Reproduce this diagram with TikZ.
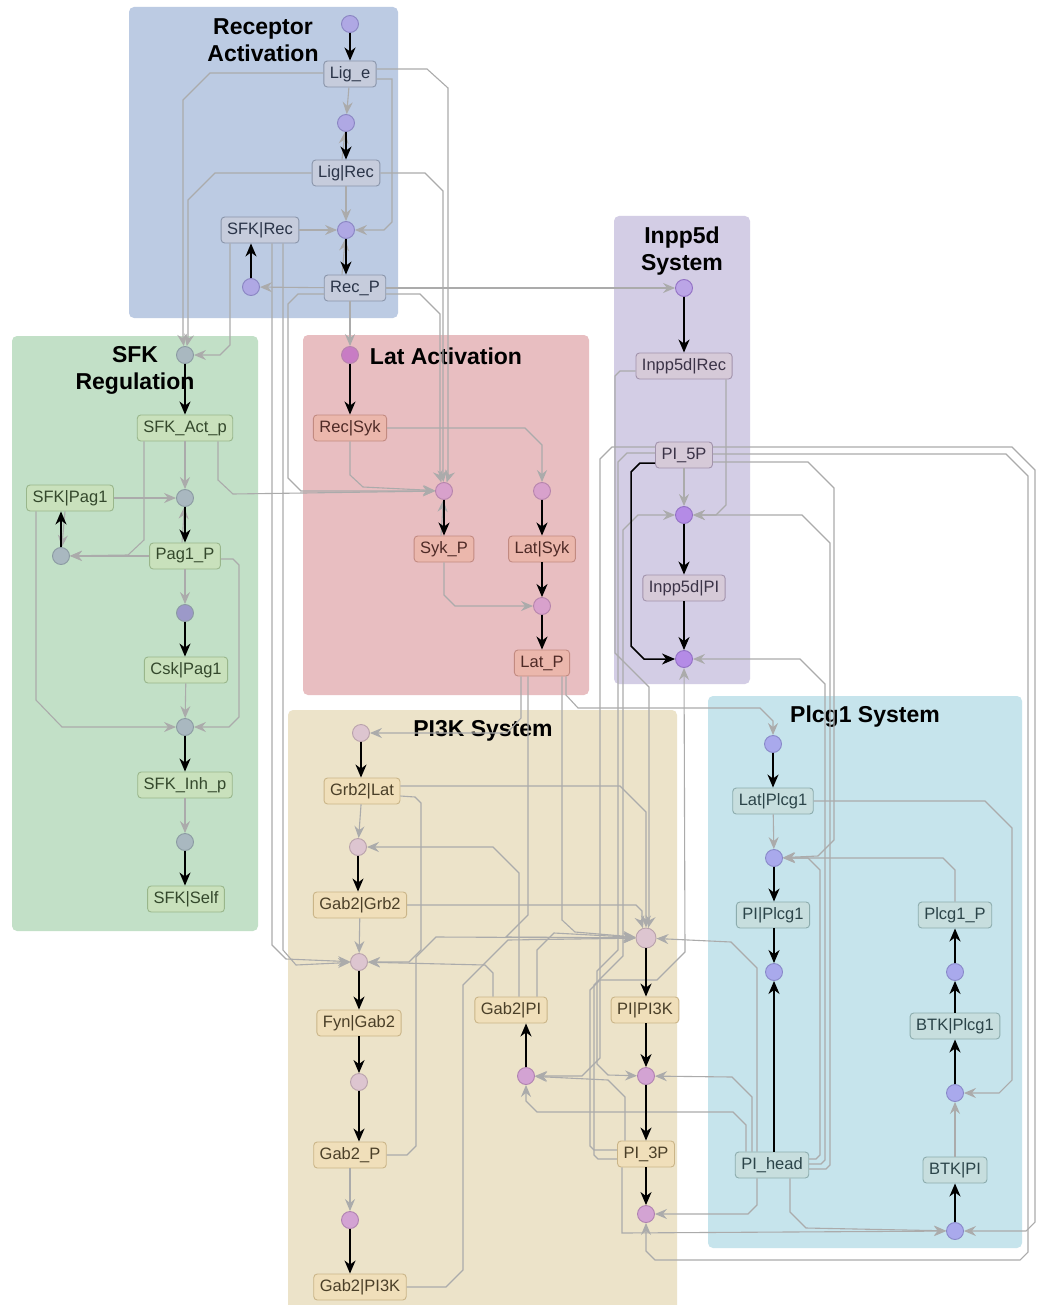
\documentclass[tikz,border=0pt]{standalone}
\usepackage{fontspec}
\setmainfont{Liberation Sans}
\usetikzlibrary{arrows.meta}

\definecolor{eg}{HTML}{ABABAB}
\definecolor{recBg}{HTML}{BCCBE3}\definecolor{recF}{HTML}{C6CCDC}\definecolor{recD}{HTML}{8A95AA}\definecolor{recT}{HTML}{2A3448}
\definecolor{recC}{HTML}{AFA8E4}\definecolor{recCD}{HTML}{8A85C2}
\definecolor{sfkBg}{HTML}{C2E0C7}\definecolor{sfkF}{HTML}{C9E1BC}\definecolor{sfkD}{HTML}{99B68B}\definecolor{sfkT}{HTML}{34482C}
\definecolor{sfkC}{HTML}{A9B8C0}\definecolor{sfkCD}{HTML}{8B9AA2}\definecolor{sfkCm}{HTML}{9C99C9}
\definecolor{latBg}{HTML}{E8BEC1}\definecolor{latF}{HTML}{EBB7AC}\definecolor{latD}{HTML}{C28A81}\definecolor{latT}{HTML}{4E2A26}
\definecolor{latC}{HTML}{D8A1CC}\definecolor{latCD}{HTML}{B684AC}\definecolor{latCs}{HTML}{C87CC4}
\definecolor{inBg}{HTML}{D3CDE5}\definecolor{inF}{HTML}{D6CAD8}\definecolor{inD}{HTML}{A293AC}\definecolor{inT}{HTML}{3B3347}
\definecolor{inC}{HTML}{B48BE6}\definecolor{inCD}{HTML}{9270C4}\definecolor{inCl}{HTML}{BBA5E6}
\definecolor{piBg}{HTML}{ECE3C9}\definecolor{piF}{HTML}{F0DFBA}\definecolor{piD}{HTML}{CAB588}\definecolor{piT}{HTML}{4A3F28}
\definecolor{piCp}{HTML}{DDC5D0}\definecolor{piCpD}{HTML}{B9A2AB}\definecolor{piCm}{HTML}{D3A3D3}\definecolor{piCmD}{HTML}{B082B0}
\definecolor{plBg}{HTML}{C6E4EC}\definecolor{plF}{HTML}{C7DEDE}\definecolor{plD}{HTML}{8CACAD}\definecolor{plT}{HTML}{2B4449}
\definecolor{plC}{HTML}{A9A9EC}\definecolor{plCD}{HTML}{8888C8}

\tikzset{
  sp/.style={draw, rounded corners=3.5pt, minimum height=26pt, inner xsep=6pt, inner ysep=0pt,
             line width=0.9pt, font=\fontsize{16.5}{19}\selectfont},
  spr/.style={sp, fill=recF, draw=recD, text=recT},
  sps/.style={sp, fill=sfkF, draw=sfkD, text=sfkT},
  spl/.style={sp, fill=latF, draw=latD, text=latT},
  spi/.style={sp, fill=inF, draw=inD, text=inT},
  spk/.style={sp, fill=piF, draw=piD, text=piT},
  spp/.style={sp, fill=plF, draw=plD, text=plT},
  rx/.style={circle, draw, minimum size=17pt, inner sep=0pt, line width=0.9pt},
  rxr/.style={rx, fill=recC, draw=recCD},
  rxs/.style={rx, fill=sfkC, draw=sfkCD},
  rxl/.style={rx, fill=latC, draw=latCD},
  rxi/.style={rx, fill=inC, draw=inCD},
  rxk/.style={rx, fill=piCp, draw=piCpD},
  rxm/.style={rx, fill=piCm, draw=piCmD},
  rxp/.style={rx, fill=plC, draw=plCD},
  ge/.style={draw=eg, line width=1.1pt, -{Stealth[length=12pt,width=10pt,inset=4pt]}},
  be/.style={draw=black, line width=1.5pt, -{Stealth[length=13pt,width=11pt,inset=4pt]}},
  ttl/.style={font=\bfseries\fontsize{23}{27}\selectfont, align=center, inner sep=0pt},
}

\begin{document}
\begin{tikzpicture}[x=1pt,y=-1pt]
\useasboundingbox (0,0) rectangle (1040,1305);
\fill[white] (0,0) rectangle (1040,1305);

% compartments
\fill[recBg, rounded corners=5pt] (129,7) rectangle (398,318);
\fill[sfkBg, rounded corners=5pt] (12,336) rectangle (258,931);
\fill[latBg, rounded corners=5pt] (303,335) rectangle (589,695);
\fill[inBg, rounded corners=5pt] (614,216) rectangle (750,684);
\fill[piBg, rounded corners=5pt] (288,710) rectangle (677,1310);
\fill[plBg, rounded corners=5pt] (708,696) rectangle (1022,1248);

% compartment titles
\node[ttl] at (263,40) {Receptor\\Activation};
\node[ttl] at (135,370) {SFK\\Regulation};
\node[ttl] at (446,356) {Lat Activation};
\node[ttl] at (682,251) {Inpp5d\\System};
\node[ttl] at (483,731) {PI3K System};
\node[ttl] at (865,717) {Plcg1 System};

% ---------- species and reactions ----------
% receptor activation
\node[rxr] (r0) at (350,24) {};
\node[spr] (lige) at (350,74) {Lig\_e};
\node[rxr] (r1) at (346,123) {};
\node[spr] (ligrec) at (346,173) {Lig|Rec};
\node[spr] (sfkrec) at (260,230) {SFK|Rec};
\node[rxr] (r2) at (346,230) {};
\node[spr] (recp) at (355,288) {Rec\_P};
\node[rxr] (r3) at (251,287) {};
% SFK regulation
\node[rxs] (r4) at (185,355) {};
\node[sps] (sfkact) at (185,428) {SFK\_Act\_p};
\node[sps] (sfkpag) at (70,498) {SFK|Pag1};
\node[rxs] (r5) at (185,498) {};
\node[rxs] (r6) at (61,556) {};
\node[sps] (pagp) at (185,556) {Pag1\_P};
\node[rx, fill=sfkCm, draw=sfkCD] (r7) at (185,613) {};
\node[sps] (cskpag) at (186,670) {Csk|Pag1};
\node[rxs] (r8) at (185,727) {};
\node[sps] (sfkinh) at (185,785) {SFK\_Inh\_p};
\node[rxs] (r9) at (185,842) {};
\node[sps] (sfkself) at (186,899) {SFK|Self};
% Lat activation
\node[rx, fill=latCs, draw=latCD] (r10) at (350,355) {};
\node[spl] (recsyk) at (350,428) {Rec|Syk};
\node[rxl] (r11) at (444,491) {};
\node[spl] (sykp) at (444,549) {Syk\_P};
\node[rxl] (r12) at (542,491) {};
\node[spl] (latsyk) at (542,549) {Lat|Syk};
\node[rxl] (r13) at (542,606) {};
\node[spl] (latp) at (542,663) {Lat\_P};
% Inpp5d system
\node[rx, fill=inCl, draw=inCD] (r14) at (684,288) {};
\node[spi] (inrec) at (684,366) {Inpp5d|Rec};
\node[spi] (pi5p) at (684,455) {PI\_5P};
\node[rxi] (r15) at (684,515) {};
\node[spi] (inpi) at (684,588) {Inpp5d|PI};
\node[rxi] (r16) at (684,659) {};
% PI3K system
\node[rxk] (r17) at (361,733) {};
\node[spk] (grblat) at (362,791) {Grb2|Lat};
\node[rxk] (r18) at (358,847) {};
\node[spk] (gabgrb) at (360,905) {Gab2|Grb2};
\node[rxk] (r19) at (359,962) {};
\node[spk] (fyngab) at (359,1023) {Fyn|Gab2};
\node[rxk] (r20) at (359,1082) {};
\node[spk] (gabp) at (350,1155) {Gab2\_P};
\node[rxm] (r21) at (350,1220) {};
\node[spk] (gabpi3k) at (360,1287) {Gab2|PI3K};
\node[spk] (gabpi) at (511,1010) {Gab2|PI};
\node[rxm] (r22) at (526,1076) {};
\node[rxk, minimum size=20pt] (r23) at (646,938) {};
\node[spk] (pipi3k) at (645,1010) {PI|PI3K};
\node[rxm] (r24) at (646,1076) {};
\node[spk] (pi3p) at (646,1154) {PI\_3P};
\node[rxm] (r25) at (646,1214) {};
% Plcg1 system
\node[rxp] (r26) at (773,744) {};
\node[spp] (latplc) at (773,801) {Lat|Plcg1};
\node[rxp] (r27) at (774,858) {};
\node[spp] (piplc) at (773,915) {PI|Plcg1};
\node[rxp] (r28) at (774,972) {};
\node[spp] (plcp) at (955,915) {Plcg1\_P};
\node[rxp] (r29) at (955,972) {};
\node[spp] (btkplc) at (955,1026) {BTK|Plcg1};
\node[rxp] (r30) at (955,1093) {};
\node[spp] (btkpi) at (955,1170) {BTK|PI};
\node[rxp] (r31) at (955,1231) {};
\node[spp] (pihead) at (772,1165) {PI\_head};

% ---------- grey reactant and modifier links ----------
% receptor activation
\draw[ge] (lige) -- (r1);
\draw[ge] ([xshift=-4pt]ligrec.north) -- (r1);
\draw[ge] (ligrec) -- (r2);
\draw[ge] ([xshift=-13pt]recp.north) -- (r2);
\draw[ge] ([yshift=-5pt]lige.east) -- (392,79) -- (392,222) -- (384,230) -- (r2);
\draw[ge] (sfkrec) -- (r2);
\draw[ge] ([yshift=5pt]lige.east) -- (427,69) -- (448,88) -- (448,478) -- (r11);
\draw[ge] ([yshift=1pt]lige.west) -- (210,73) -- (183,100) -- (183,340) -- (r4);
\draw[ge] (ligrec.west) -- (215,173) -- (188,200) -- (188,340) -- (r4);
\draw[ge] (ligrec.east) -- (425,173) -- (443,191) -- (443,478) -- (r11);
\draw[ge] ([xshift=-30pt]sfkrec.south) -- (230,345) -- (220,355) -- (r4);
\draw[ge] (recp) -- (r3);
\draw[ge] (recp) -- (r14);
\draw[ge] ([yshift=-6pt]recp.east) -- (420,294) -- (440,314) -- (440,478) -- (r11);
\draw[ge] ([xshift=-5pt]recp.south) -- (r10);
\draw[ge] ([yshift=-6pt]recp.west) -- (298,294) -- (288,304) -- (288,478) -- (301,491) -- (r11);
\draw[ge] ([xshift=12pt]sfkrec.south) -- (272,945) -- (286,959) -- (r19);
\draw[ge] ([xshift=23pt]sfkrec.south) -- (283,950) -- (296,965) -- (r19);
% SFK regulation
\draw[ge] (sfkact) -- (r5);
\draw[ge] (sfkpag) -- (r5);
\draw[ge] ([xshift=-3pt]pagp.north) -- (r5);
\draw[ge] ([xshift=-41pt]sfkact.south) -- (144,540) -- (128,555) -- (r6);
\draw[ge] (pagp) -- (r6);
\draw[ge] ([xshift=-5pt]sfkpag.south) -- (r6);
\draw[ge] (pagp) -- (r7);
\draw[ge] ([xshift=-34pt]sfkpag.south) -- (36,700) -- (62,727) -- (r8);
\draw[ge] ([yshift=-3pt]pagp.east) -- (233,559) -- (239,565) -- (239,717) -- (229,727) -- (r8);
\draw[ge] (cskpag) -- (r8);
\draw[ge] (sfkinh) -- (r9);
% Lat activation
\draw[ge] (recsyk.east) -- (525,428) -- (542,445) -- (r12);
\draw[ge] (recsyk.south) -- (350,475) -- (363,487) -- (r11);
\draw[ge] ([xshift=33pt]sfkact.south) -- (218,480) -- (233,494) -- (r11);
\draw[ge] ([xshift=-3pt]sykp.north) -- (r11);
\draw[ge] (sykp.south) -- (444,595) -- (455,606) -- (r13);
\draw[ge] ([xshift=-21pt]latp.south) -- (521,718) -- (507,733) -- (r17);
\draw[ge] ([xshift=-14pt]latp.south) -- (528,915) -- (506,937) -- (r23);
\draw[ge] ([xshift=20pt]latp.south) -- (562,920) -- (575,932) -- (r23);
\draw[ge] ([xshift=24pt]latp.south) -- (566,695) -- (578,708) -- (760,708) -- (773,721) -- (r26);
% Inpp5d system
\draw[ge] (pi5p) -- (r15);
\draw[ge] ([xshift=42pt]inrec.south) -- (726,505) -- (716,515) -- (r15);
\draw[ge] ([yshift=-5pt]inrec.west) -- (620,371) -- (615,376) -- (615,653) -- (649,687) -- (649,924) -- (r23);
\draw[ge] ([yshift=8pt]pi5p.west) -- (612,447) -- (600,459) -- (600,1058) -- (582,1076) -- (r22);
\draw[ge] ([yshift=2pt]pi5p.west) -- (627,453) -- (618,462) -- (618,950) -- (597,971) -- (597,1064) -- (608,1075) -- (r24);
\draw[ge] ([yshift=8pt]pi5p.east) -- (1012,447) -- (1035,470) -- (1035,1222) -- (1026,1231) -- (r31);
\draw[ge] ([yshift=1pt]pi5p.east) -- (1006,454) -- (1028,476) -- (1028,1252) -- (1020,1260) -- (655,1260) -- (646,1251) -- (r25);
\draw[ge] ([yshift=-7pt]pi5p.east) -- (808,462) -- (834,488) -- (834,840) -- (818,856) -- (r27);
% PI3K system
\draw[ge] (grblat) -- (r18);
\draw[ge] ([yshift=5pt]grblat.east) -- (620,786) -- (646,812) -- (646,925) -- (r23);
\draw[ge] ([yshift=-5pt]grblat.east) -- (415,797) -- (421,803) -- (421,950) -- (409,962) -- (r19);
\draw[ge] (gabgrb) -- (r19);
\draw[ge] (gabgrb.east) -- (636,905) -- (642,911) -- (642,925) -- (r23);
\draw[ge] (gabp) -- (r21);
\draw[ge] (gabp.east) -- (407,1155) -- (416,1146) -- (416,957) -- (436,937) -- (r23);
\draw[ge] ([xshift=8pt]gabpi.north) -- (519,873) -- (493,847) -- (r18);
\draw[ge] ([xshift=26pt]gabpi.north) -- (537,950) -- (554,933) -- (r23);
\draw[ge] ([xshift=-18pt]gabpi.north) -- (493,973) -- (485,965) -- (r19);
\draw[ge] (gabpi3k.east) -- (446,1287) -- (463,1270) -- (463,985) -- (508,940) -- (r23);
\draw[ge] ([yshift=4pt]pi3p.west) -- (594,1150) -- (590,1146) -- (590,990) -- (600,980) -- (657,980) -- (685,952) -- (r16);
\draw[ge] ([yshift=-5pt]pi3p.west) -- (598,1159) -- (594,1155) -- (594,985) -- (623,956) -- (623,530) -- (638,515) -- (r15);
\draw[ge] ([xshift=-21pt]pi3p.north) -- (625,1097) -- (608,1080) -- (r22);
\draw[ge] ([xshift=-24pt]pi3p.south) -- (622,1233) -- (r31);
% Plcg1 system
\draw[ge] (latplc) -- (r27);
\draw[ge] (latplc.east) -- (985,801) -- (1012,828) -- (1012,1080) -- (999,1093) -- (r30);
\draw[ge] (plcp.north) -- (955,870) -- (943,858) -- (r27);
\draw[ge] (btkpi) -- (r30);
\draw[ge] ([xshift=-26pt]pihead.north) -- (746,1125) -- (733,1112) -- (537,1112) -- (526,1101) -- (r22);
\draw[ge] ([xshift=-20pt]pihead.north) -- (752,1097) -- (732,1077) -- (r24);
\draw[ge] ([xshift=-15pt]pihead.north) -- (757,968) -- (731,942) -- (r23);
\draw[ge] ([xshift=-15pt]pihead.south) -- (757,1205) -- (748,1214) -- (r25);
\draw[ge] ([xshift=18pt]pihead.south) -- (790,1212) -- (806,1228) -- (r31);
\draw[ge] ([yshift=6pt]pihead.east) -- (816,1159) -- (820,1155) -- (820,870) -- (808,858) -- (r27);
\draw[ge] ([yshift=1pt]pihead.east) -- (821,1164) -- (825,1160) -- (825,684) -- (800,659) -- (r16);
\draw[ge] ([yshift=-4pt]pihead.east) -- (826,1169) -- (830,1165) -- (830,543) -- (802,515) -- (r15);

% ---------- main reaction flow ----------
\draw[be] (r0) -- (lige);
\draw[be] (r1) -- (ligrec);
\draw[be] (r2) -- (recp.north -| r2);
\draw[be] (r3) -- (sfkrec.south -| r3);
\draw[be] (r4) -- (sfkact);
\draw[be] (r5) -- (pagp);
\draw[be] (r6) -- (sfkpag.south -| r6);
\draw[be] (r7) -- (cskpag.north -| r7);
\draw[be] (r8) -- (sfkinh);
\draw[be] (r9) -- (sfkself.north -| r9);
\draw[be] (r10) -- (recsyk);
\draw[be] (r11) -- (sykp);
\draw[be] (r12) -- (latsyk);
\draw[be] (latsyk) -- (r13);
\draw[be] (r13) -- (latp);
\draw[be] (r14) -- (inrec);
\draw[be] (r15) -- (inpi);
\draw[be] (inpi) -- (r16);
\draw[be] ([yshift=-8pt]pi5p.west) -- (640,463) -- (631,472) -- (631,646) -- (644,659) -- (r16);
\draw[be] (r17) -- (grblat.north -| r17);
\draw[be] (r18) -- (gabgrb.north -| r18);
\draw[be] (r19) -- (fyngab);
\draw[be] (fyngab) -- (r20);
\draw[be] (r20) -- (gabp.north -| r20);
\draw[be] (r21) -- (gabpi3k.north -| r21);
\draw[be] (r22) -- (gabpi.south -| r22);
\draw[be] (r23) -- (pipi3k.north -| r23);
\draw[be] (pipi3k.south -| r24) -- (r24);
\draw[be] (r24) -- (pi3p);
\draw[be] (pi3p) -- (r25);
\draw[be] (r26) -- (latplc.north -| r26);
\draw[be] (r27) -- (piplc.north -| r27);
\draw[be] (piplc.south -| r28) -- (r28);
\draw[be] (pihead.north -| r28) -- (r28);
\draw[be] (r29) -- (plcp);
\draw[be] (btkplc) -- (r29);
\draw[be] (r30) -- (btkplc);
\draw[be] (r31) -- (btkpi);
\end{tikzpicture}
\end{document}
